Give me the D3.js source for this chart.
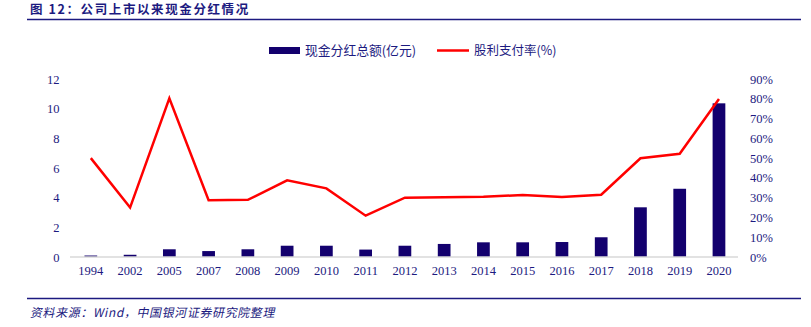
<!DOCTYPE html>
<html>
<head>
<meta charset="utf-8">
<script src="https://cdn.jsdelivr.net/npm/d3@7/dist/d3.min.js"></script>
<style>
  html, body { margin: 0; padding: 0; background: #fff; }
  svg { display: block; }
</style>
</head>
<body>
<svg id="chart" width="811" height="327"></svg>
<script>
// Cash dividends since listing: annual total (亿元) and payout ratio (%)
const years = ["1994","2002","2005","2007","2008","2009","2010","2011","2012","2013","2014","2015","2016","2017","2018","2019","2020"];
const dividendTotal = [0.1, 0.15, 0.52, 0.4, 0.52, 0.76, 0.76, 0.5, 0.76, 0.88, 0.99, 0.99, 1.01, 1.33, 3.35, 4.6, 10.36];
const payoutRatio = [50, 25, 80.2, 28.7, 28.9, 38.8, 34.7, 20.9, 30.0, 30.2, 30.5, 31.3, 30.3, 31.5, 49.9, 52.2, 79.9];
const leftTicks = [0, 2, 4, 6, 8, 10, 12];
const rightTicks = [0, 10, 20, 30, 40, 50, 60, 70, 80, 90];

const navy = "#1c1a80";
const barColor = "#13006e";
const lineColor = "#ff0000";
const serif = "'Liberation Serif', 'Times New Roman', serif";
const cjk = "'Noto Sans CJK SC', 'Noto Sans', sans-serif";

const svg = d3.select("#chart");

// Header and footer rules
svg.append("text")
  .attr("x", 30).attr("y", 13.5)
  .attr("font-family", cjk).attr("font-weight", "bold")
  .attr("font-size", 12.5).attr("letter-spacing", 1.6).attr("fill", navy)
  .text("图 12：公司上市以来现金分红情况");
svg.append("line")
  .attr("x1", 27).attr("x2", 801).attr("y1", 19.5).attr("y2", 19.5)
  .attr("stroke", navy).attr("stroke-width", 1.5);
svg.append("line")
  .attr("x1", 27).attr("x2", 801).attr("y1", 298.5).attr("y2", 298.5)
  .attr("stroke", navy).attr("stroke-width", 1.5);
svg.append("text")
  .attr("x", 30).attr("y", 317)
  .attr("font-family", cjk)
  .attr("font-size", 12).attr("letter-spacing", 0.6).attr("fill", navy)
  .attr("transform", "skewX(-12) translate(67.4,0)")
  .text("资料来源：Wind，中国银河证券研究院整理");

// Scales
const plot = { left: 71.2, right: 738.6, top: 79, bottom: 257 };
const x = d3.scaleBand().domain(years).range([plot.left, plot.right]).paddingInner(0.676).paddingOuter(0.338);
const xc = d => x(d) + x.bandwidth() / 2;
const yL = d3.scaleLinear().domain([0, 12]).range([plot.bottom, plot.top]);
const yR = d3.scaleLinear().domain([0, 90]).range([plot.bottom, plot.top]);

// Bars
svg.append("g").selectAll("rect").data(years).join("rect")
  .attr("x", d => x(d))
  .attr("width", x.bandwidth())
  .attr("y", (d, i) => yL(dividendTotal[i]))
  .attr("height", (d, i) => yL(0) - yL(dividendTotal[i]))
  .attr("fill", barColor);

// Category axis
const xAxis = svg.append("g")
  .attr("transform", `translate(0,${plot.bottom})`)
  .call(d3.axisBottom(x).tickSize(0).tickPadding(9));
xAxis.select(".domain").attr("stroke", "#d9d9d9").attr("stroke-width", 1.5)
  .attr("d", `M70,0H738`);
xAxis.selectAll("text").attr("font-family", serif).attr("font-size", 12.5).attr("fill", navy);

// Left value axis
const yAxisL = svg.append("g")
  .attr("transform", `translate(59.5,0)`)
  .call(d3.axisLeft(yL).tickValues(leftTicks).tickSize(0).tickPadding(0));
yAxisL.select(".domain").remove();
yAxisL.selectAll("text").attr("font-family", serif).attr("font-size", 12.5).attr("fill", navy);

// Right percentage axis
const yAxisR = svg.append("g")
  .attr("transform", `translate(750,0)`)
  .call(d3.axisRight(yR).tickValues(rightTicks).tickSize(0).tickPadding(0).tickFormat(d => d + "%"));
yAxisR.select(".domain").remove();
yAxisR.selectAll("text").attr("font-family", serif).attr("font-size", 12.5).attr("fill", navy);

// Payout ratio line
const line = d3.line().x((d, i) => xc(years[i])).y(d => yR(d));
svg.append("path")
  .datum(payoutRatio)
  .attr("d", line)
  .attr("fill", "none")
  .attr("stroke", lineColor)
  .attr("stroke-width", 2.5)
  .attr("stroke-linejoin", "miter");

// Legend
const lg = svg.append("g");
lg.append("rect").attr("x", 269).attr("y", 47).attr("width", 31).attr("height", 7).attr("fill", barColor);
lg.append("text").attr("x", 305).attr("y", 55)
  .attr("font-family", cjk).attr("font-size", 12.8).attr("fill", navy)
  .text("现金分红总额(亿元)");
lg.append("line").attr("x1", 437).attr("x2", 469).attr("y1", 50.5).attr("y2", 50.5)
  .attr("stroke", lineColor).attr("stroke-width", 2.5);
lg.append("text").attr("x", 474).attr("y", 55)
  .attr("font-family", cjk).attr("font-size", 12.5).attr("fill", navy)
  .text("股利支付率(%)");
</script>
</body>
</html>
